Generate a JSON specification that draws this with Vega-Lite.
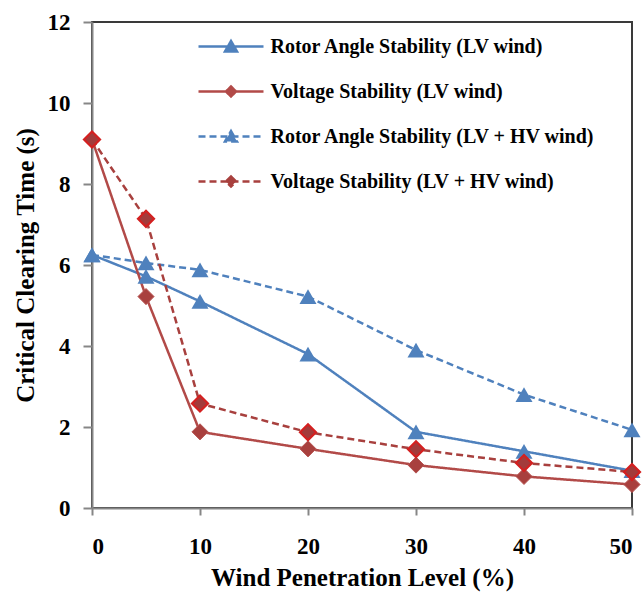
{
  "$schema": "https://vega.github.io/schema/vega-lite/v6.json",
  "width": 540,
  "height": 486,
  "autosize": {"type": "none"},
  "padding": {"left": 92, "top": 22, "right": 10, "bottom": 84},
  "background": "white",
  "config": {
    "font": "Liberation Serif",
    "view": {"stroke": "#3a3a3a", "strokeWidth": 2},
    "axis": {
      "grid": false,
      "domainColor": "#868686",
      "domainWidth": 2,
      "tickColor": "#868686",
      "tickWidth": 2,
      "labelFont": "Liberation Serif",
      "labelFontWeight": "bold",
      "labelFontSize": 23,
      "labelColor": "black",
      "titleFont": "Liberation Serif",
      "titleFontWeight": "bold",
      "titleFontSize": 25,
      "titleColor": "black"
    },
    "legend": {
      "orient": "none",
      "legendX": 127.5,
      "legendY": 13,
      "padding": 0,
      "rowPadding": 23,
      "symbolSize": 400,
      "symbolStrokeWidth": 2.5,
      "symbolOpacity": 1,
      "labelFont": "Liberation Serif",
      "labelFontWeight": "bold",
      "labelFontSize": 20,
      "labelColor": "black",
      "labelOffset": 28,
      "labelLimit": 400
    }
  },
  "data": {
    "values": [
      {"x": 0, "y": 6.25, "s": "Rotor Angle Stability (LV wind)"},
      {"x": 5, "y": 5.72, "s": "Rotor Angle Stability (LV wind)"},
      {"x": 10, "y": 5.1, "s": "Rotor Angle Stability (LV wind)"},
      {"x": 20, "y": 3.8, "s": "Rotor Angle Stability (LV wind)"},
      {"x": 30, "y": 1.88, "s": "Rotor Angle Stability (LV wind)"},
      {"x": 40, "y": 1.4, "s": "Rotor Angle Stability (LV wind)"},
      {"x": 50, "y": 0.92, "s": "Rotor Angle Stability (LV wind)"},
      {"x": 0, "y": 9.1, "s": "Voltage Stability (LV wind)"},
      {"x": 5, "y": 5.22, "s": "Voltage Stability (LV wind)"},
      {"x": 10, "y": 1.88, "s": "Voltage Stability (LV wind)"},
      {"x": 20, "y": 1.46, "s": "Voltage Stability (LV wind)"},
      {"x": 30, "y": 1.06, "s": "Voltage Stability (LV wind)"},
      {"x": 40, "y": 0.78, "s": "Voltage Stability (LV wind)"},
      {"x": 50, "y": 0.58, "s": "Voltage Stability (LV wind)"},
      {"x": 0, "y": 6.25, "s": "Rotor Angle Stability (LV + HV wind)"},
      {"x": 5, "y": 6.05, "s": "Rotor Angle Stability (LV + HV wind)"},
      {"x": 10, "y": 5.88, "s": "Rotor Angle Stability (LV + HV wind)"},
      {"x": 20, "y": 5.22, "s": "Rotor Angle Stability (LV + HV wind)"},
      {"x": 30, "y": 3.9, "s": "Rotor Angle Stability (LV + HV wind)"},
      {"x": 40, "y": 2.8, "s": "Rotor Angle Stability (LV + HV wind)"},
      {"x": 50, "y": 1.93, "s": "Rotor Angle Stability (LV + HV wind)"},
      {"x": 0, "y": 9.1, "s": "Voltage Stability (LV + HV wind)"},
      {"x": 5, "y": 7.14, "s": "Voltage Stability (LV + HV wind)"},
      {"x": 10, "y": 2.58, "s": "Voltage Stability (LV + HV wind)"},
      {"x": 20, "y": 1.87, "s": "Voltage Stability (LV + HV wind)"},
      {"x": 30, "y": 1.45, "s": "Voltage Stability (LV + HV wind)"},
      {"x": 40, "y": 1.11, "s": "Voltage Stability (LV + HV wind)"},
      {"x": 50, "y": 0.89, "s": "Voltage Stability (LV + HV wind)"}
    ]
  },
  "encoding": {
    "x": {
      "field": "x",
      "type": "quantitative",
      "scale": {"domain": [0, 50], "nice": false},
      "axis": {
        "values": [0, 10, 20, 30, 40, 50],
        "title": "Wind Penetration Level (%)",
        "tickSize": 7,
        "labelPadding": 20,
        "titlePadding": 7
      }
    },
    "y": {
      "field": "y",
      "type": "quantitative",
      "scale": {"domain": [0, 12], "nice": false},
      "axis": {
        "values": [0, 2, 4, 6, 8, 10, 12],
        "title": "Critical Clearing Time  (s)",
        "tickSize": 9,
        "labelPadding": 13,
        "titlePadding": 9
      }
    }
  },
  "layer": [
    {
      "transform": [{"filter": "false"}],
      "mark": {"type": "point", "filled": true, "opacity": 1, "strokeWidth": 2.5},
      "encoding": {
        "color": {
          "field": "s",
          "type": "nominal",
          "scale": {
            "domain": ["Rotor Angle Stability (LV wind)", "Voltage Stability (LV wind)", "Rotor Angle Stability (LV + HV wind)", "Voltage Stability (LV + HV wind)"],
            "range": ["#4F81BD", "#B24A48", "#4F81BD", "#A8403E"]
          },
          "legend": {"title": null}
        },
        "stroke": {
          "field": "s",
          "type": "nominal",
          "scale": {
            "domain": ["Rotor Angle Stability (LV wind)", "Voltage Stability (LV wind)", "Rotor Angle Stability (LV + HV wind)", "Voltage Stability (LV + HV wind)"],
            "range": ["#4F81BD", "#B24A48", "#4F81BD", "#A8403E"]
          },
          "legend": {"title": null}
        },
        "strokeDash": {
          "field": "s",
          "type": "nominal",
          "scale": {
            "domain": ["Rotor Angle Stability (LV wind)", "Voltage Stability (LV wind)", "Rotor Angle Stability (LV + HV wind)", "Voltage Stability (LV + HV wind)"],
            "range": [[1, 0], [1, 0], [7, 4], [7, 4]]
          },
          "legend": {"title": null}
        },
        "shape": {
          "field": "s",
          "type": "nominal",
          "scale": {
            "domain": ["Rotor Angle Stability (LV wind)", "Voltage Stability (LV wind)", "Rotor Angle Stability (LV + HV wind)", "Voltage Stability (LV + HV wind)"],
            "range": [
              "M-3.25,0H3.25M0,-0.55L0.6,0.5L-0.6,0.5Z",
              "M-3.25,0H3.25M0,-0.5L0.5,0L0,0.5L-0.5,0Z",
              "M-3.25,0H3.25M0,-0.55L0.6,0.5L-0.6,0.5Z",
              "M-3.25,0H3.25M0,-0.5L0.5,0L0,0.5L-0.5,0Z"
            ]
          },
          "legend": {"title": null}
        }
      }
    },
    {
      "mark": {"type": "line", "strokeWidth": 2.5},
      "encoding": {
        "color": {
          "field": "s",
          "type": "nominal",
          "scale": {
            "domain": ["Rotor Angle Stability (LV wind)", "Voltage Stability (LV wind)", "Rotor Angle Stability (LV + HV wind)", "Voltage Stability (LV + HV wind)"],
            "range": ["#4F81BD", "#B24A48", "#4F81BD", "#A8403E"]
          },
          "legend": {"title": null}
        },
        "strokeDash": {
          "field": "s",
          "type": "nominal",
          "scale": {
            "domain": ["Rotor Angle Stability (LV wind)", "Voltage Stability (LV wind)", "Rotor Angle Stability (LV + HV wind)", "Voltage Stability (LV + HV wind)"],
            "range": [[1, 0], [1, 0], [8, 5], [8, 5]]
          },
          "legend": {"title": null}
        }
      }
    },
    {
      "transform": [{"filter": "indexof(datum.s, 'Rotor') >= 0"}],
      "mark": {"type": "point", "shape": "triangle-up", "filled": true, "size": 290, "color": "#4F81BD", "opacity": 1}
    },
    {
      "transform": [{"filter": "datum.s == 'Voltage Stability (LV wind)'"}],
      "mark": {"type": "point", "shape": "diamond", "filled": true, "size": 260, "fill": "#A8403E", "stroke": "#B85654", "strokeWidth": 1, "opacity": 1}
    },
    {
      "transform": [{"filter": "datum.s == 'Voltage Stability (LV + HV wind)'"}],
      "mark": {"type": "point", "shape": "diamond", "filled": true, "size": 256, "fill": "#A33B3B", "stroke": "#D42020", "strokeWidth": 2.2, "opacity": 1}
    }
  ]
}
